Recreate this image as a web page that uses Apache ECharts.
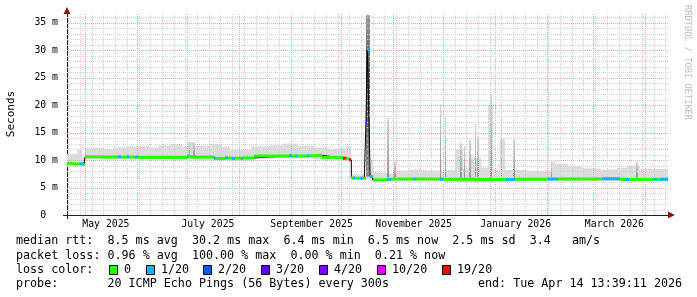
<!DOCTYPE html>
<html><head><meta charset="utf-8">
<script src="https://cdn.jsdelivr.net/npm/echarts@6/dist/echarts.min.js"></script>
<style>html,body{margin:0;padding:0;background:#fff}#c{width:697px;height:297px}</style>
</head><body><div id="c"></div>
<script>
// ---------- data ----------
const startTime = '2025-04-20 06:00';
const endTime = '2026-04-14 13:39:11';
const yTicks = [0, 5, 10, 15, 20, 25, 30, 35];
const xLabelDates = ['2025-05-13 12:00', '2025-07-13 12:00', '2025-09-13 12:00', '2025-11-13 12:00', '2026-01-13 12:00', '2026-03-13 12:00'];
const xLabels = ['May 2025', 'July 2025', 'September 2025', 'November 2025', 'January 2026', 'March 2026'];

// median rtt (ms), held from each time until the next one; loss = lost pings out of 20
const medianTimes = [
  '2025-04-20 06:00', '2025-04-24', '2025-04-28', '2025-04-30 12:00',
  '2025-05-01', '2025-05-10', '2025-05-21', '2025-05-22 12:00', '2025-05-26', '2025-05-27 12:00', '2025-05-31', '2025-06-01 12:00', '2025-06-15',
  '2025-07-01', '2025-07-02 12:00', '2025-07-17', '2025-07-18 12:00', '2025-07-24', '2025-07-25 12:00', '2025-07-28', '2025-07-29 12:00',
  '2025-08-02', '2025-08-03 12:00', '2025-08-10', '2025-08-31', '2025-09-01 12:00', '2025-09-04', '2025-09-05', '2025-09-11', '2025-09-12',
  '2025-09-17', '2025-09-20', '2025-09-29',
  '2025-10-02 12:00', '2025-10-04 06:00', '2025-10-06', '2025-10-07 06:00', '2025-10-08', '2025-10-09 12:00', '2025-10-12 12:00', '2025-10-15',
  '2025-10-16', '2025-10-16 18:00', '2025-10-17 18:00', '2025-10-18 12:00', '2025-10-20',
  '2025-10-28 12:00', '2025-10-31', '2025-11-13', '2025-11-15', '2025-11-29', '2025-12-01', '2025-12-20',
  '2026-01-08', '2026-01-13', '2026-02-02', '2026-02-08', '2026-03-06', '2026-03-17', '2026-03-20', '2026-03-22',
  '2026-04-06', '2026-04-08', '2026-04-10'
];
const medianValues = [
  9.4, 9.3, 9.3, 9.2,
  10.6, 10.55, 10.6, 10.55, 10.6, 10.55, 10.55, 10.5, 10.5,
  10.7, 10.55, 10.35, 10.3, 10.4, 10.35, 10.3, 10.35,
  10.3, 10.4, 10.75, 10.8, 10.75, 10.75, 10.75, 10.8, 10.8,
  10.85, 10.5, 10.45,
  10.35, 10.3, 10.05, 6.75, 6.75, 6.7, 6.7, 6.7,
  17.0, 30.2, 18.2, 7.0, 6.4,
  6.45, 6.55, 6.55, 6.55, 6.5, 6.5, 6.45,
  6.45, 6.5, 6.55, 6.55, 6.6, 6.5, 6.45, 6.45,
  6.5, 6.5, 6.5
];
const medianLoss = [
  0, 0, 1, 0,
  0, 0, 1, 0, 1, 0, 1, 0, 0,
  0, 0, 1, 0, 1, 0, 1, 0,
  1, 0, 0, 1, 0, 1, 0, 1, 0,
  0, 0, 0,
  19, 0, 19, 0, 1, 0, 1, 0,
  3, 1, 1, 1, 0,
  1, 0, 1, 0, 1, 0, 0,
  1, 0, 1, 0, 1, 0, 1, 0,
  1, 0, 1
];

// smoke (spread of the 20 pings), held from each time until the next one
const smokeTimes = [
  '2025-04-20 06:00', '2025-04-26', '2025-04-29',
  '2025-05-01', '2025-05-12', '2025-05-18', '2025-05-26', '2025-06-08', '2025-06-14', '2025-06-22', '2025-06-28',
  '2025-07-01', '2025-07-06', '2025-07-15', '2025-07-22', '2025-07-27', '2025-08-08', '2025-08-20', '2025-08-28',
  '2025-09-05', '2025-09-15', '2025-09-24', '2025-10-01', '2025-10-04',
  '2025-10-07 06:00', '2025-10-19', '2025-10-20', '2025-10-26', '2025-11-02', '2025-11-10', '2025-11-20',
  '2025-12-01', '2025-12-08', '2025-12-13', '2025-12-17', '2025-12-24', '2025-12-28', '2025-12-31',
  '2026-01-04', '2026-01-07', '2026-01-20', '2026-02-04', '2026-02-06', '2026-02-14', '2026-02-22',
  '2026-03-05', '2026-03-15', '2026-03-21', '2026-03-29'
];
const smokeLow = [
  9.0, 9.0, 9.0,
  10.1, 10.1, 10.1, 10.1, 10.1, 10.1, 10.0, 10.0,
  10.1, 10.0, 10.0, 10.0, 9.9, 10.2, 10.3, 10.3,
  10.3, 10.1, 10.1, 9.9, 9.8,
  6.5, 6.2, 6.2, 6.2, 6.2, 6.2, 6.2,
  6.1, 6.0, 6.0, 6.0, 6.0, 6.0, 6.1,
  6.1, 6.1, 6.2, 6.2, 6.2, 6.2, 6.2,
  6.2, 6.2, 6.2, 6.2
];
const smokeHigh = [
  11.1, 11.9, 10.4,
  12.2, 12.0, 12.3, 12.5, 12.3, 12.7, 12.9, 12.4,
  13.3, 12.6, 12.9, 12.4, 11.9, 12.5, 12.7, 13.0,
  12.6, 12.3, 12.0, 12.1, 12.5,
  7.4, 10.0, 7.8, 7.6, 8.1, 8.3, 8.1,
  8.2, 11.9, 8.4, 10.5, 8.6, 20.0, 8.3,
  13.9, 8.2, 8.0, 9.7, 9.3, 8.9, 8.5,
  8.3, 8.6, 9.0, 8.4
];

// short bursts of high ping times
const spikeStart = ['2025-07-02', '2025-07-04 12:00', '2025-10-15 20:00', '2025-10-28 12:00', '2025-11-02', '2025-11-29', '2025-12-02',
  '2025-12-11 06:00', '2025-12-13 12:00', '2025-12-16 12:00', '2025-12-20', '2025-12-21 12:00', '2025-12-29', '2026-01-04 12:00',
  '2026-01-12', '2026-02-03 12:00', '2026-03-26 12:00'];
const spikeEnd = ['2025-07-03', '2025-07-05 12:00', '2025-10-18 16:00', '2025-10-29 12:00', '2025-11-03', '2025-11-30', '2025-12-03',
  '2025-12-12 06:00', '2025-12-14 12:00', '2025-12-17 12:00', '2025-12-21', '2025-12-22 12:00', '2025-12-30 12:00', '2026-01-05 12:00',
  '2026-01-13', '2026-02-04 12:00', '2026-03-27 12:00'];
const spikeLow = [10.6, 10.6, 7.0, 6.6, 6.6, 6.6, 6.6, 6.6, 6.6, 6.6, 6.6, 6.6, 6.6, 6.6, 6.6, 6.6, 6.6];
const spikeHigh = [13.4, 13.3, 36.4, 17.6, 9.7, 20.2, 17.9, 13.1, 12.6, 13.7, 16.6, 14.3, 21.9, 17.9, 13.9, 9.7, 9.7];

const lossSteps = [0, 1, 2, 3, 4, 10, 19];
const lossLabels = ['0', '1/20', '2/20', '3/20', '4/20', '10/20', '19/20'];

// ---------- styles ----------
const LOSS_COLORS = ['#26ff00', '#00b8ff', '#0059ff', '#5e00ff', '#7e00ff', '#dd00ff', '#ff0000'];
const MONO = '"DejaVu Sans Mono", monospace';
const SMOKE = '#dcdcdc';
const MINOR = '#d2d2d2';
const MAJOR = '#f4a4a4';

function T(s) {
  const iso = s.length === 10 ? s + 'T00:00:00' : s.replace(' ', 'T');
  return new Date(iso).getTime();
}
function lossIndex(l) {
  let k = 0;
  for (let i = 0; i < lossSteps.length; i++) if (l >= lossSteps[i]) k = i;
  return k;
}
const tStart = T(startTime), tEnd = T(endTime);

const smokeData = smokeTimes.map((s, i) => [T(s), i + 1 < smokeTimes.length ? T(smokeTimes[i + 1]) : tEnd, smokeLow[i], smokeHigh[i]]);
const spikeData = spikeStart.map((s, i) => [T(s), T(spikeEnd[i]), spikeLow[i], spikeHigh[i]]);
const medSeg = medianTimes.map((s, i) => [T(s), i + 1 < medianTimes.length ? T(medianTimes[i + 1]) : tEnd, medianValues[i], medianLoss[i]]);
const medLine = medianTimes.map((s, i) => [T(s), medianValues[i]]);
medLine.push([tEnd, medianValues[medianValues.length - 1]]);
const xLabelData = xLabelDates.map((s, i) => [T(s), 0, i]);

// grid positions (axis decorations)
const vGrid = [];
{
  let d = new Date(2025, 3, 21);
  while (d.getTime() <= tEnd) { vGrid.push([d.getTime(), 0, 0]); d = new Date(d.getFullYear(), d.getMonth(), d.getDate() + 7); }
  let m = new Date(2025, 4, 1);
  while (m.getTime() <= tEnd) { vGrid.push([m.getTime(), 0, 1]); m = new Date(m.getFullYear(), m.getMonth() + 1, 1); }
}
const hGrid = [];
for (let v = 1; v <= 36; v++) hGrid.push([tStart, v, v % 5 === 0 ? 1 : 0]);

function rectItem(params, api, fill) {
  const cs = params.coordSys;
  const p0 = api.coord([api.value(0), api.value(3)]);
  const p1 = api.coord([api.value(1), api.value(2)]);
  const x0 = Math.round(p0[0]), x1 = Math.round(p1[0]);
  const shape = echarts.graphic.clipRectByRect(
    { x: x0, y: p0[1], width: Math.max(1, x1 - x0), height: p1[1] - p0[1] },
    { x: cs.x, y: cs.y, width: cs.width, height: cs.height });
  if (!shape) return null;
  return { type: 'rect', shape: shape, style: { fill: fill } };
}

const chart = echarts.init(document.getElementById('c'), null, { renderer: 'canvas' });
chart.setOption({
  animation: false,
  backgroundColor: '#ffffff',
  grid: { left: 67, right: 29, top: 14, bottom: 82, containLabel: false },
  xAxis: {
    type: 'value', min: tStart, max: tEnd,
    axisLine: { show: true, lineStyle: { color: '#222', width: 1 } },
    axisTick: { show: false }, splitLine: { show: false },
    axisLabel: { show: false }
  },
  yAxis: {
    type: 'value', min: 0, max: 36.6, interval: 5,
    axisLine: { show: true, lineStyle: { color: '#222', width: 1 } },
    axisTick: { show: false }, splitLine: { show: false },
    axisLabel: {
      formatter: v => (yTicks.indexOf(v) < 0 ? '' : (v === 0 ? '0  ' : v + ' m')),
      showMaxLabel: false,
      color: '#000', fontFamily: MONO, fontSize: 9.8, margin: 9
    }
  },
  series: [
    {
      type: 'custom', name: 'smoke', z: 1, silent: true, clip: true,
      data: smokeData, encode: { x: [0, 1], y: [2, 3] },
      renderItem: (p, api) => rectItem(p, api, SMOKE)
    },
    {
      type: 'custom', name: 'bursts', z: 2, silent: true, clip: true,
      data: spikeData, encode: { x: [0, 1], y: [2, 3] },
      renderItem: (p, api) => rectItem(p, api, api.value(3) > 30 ?
        { type: 'linear', x: 0, y: 0, x2: 0, y2: 1, colorStops: [{ offset: 0, color: '#9a9a9a' }, { offset: 0.35, color: '#555' }, { offset: 1, color: '#8a8a8a' }] } :
        { type: 'linear', x: 0, y: 0, x2: 0, y2: 1, colorStops: [{ offset: 0, color: '#d4d4d4' }, { offset: 1, color: '#909090' }] })
    },
    {
      type: 'custom', name: 'vgrid', z: 3, silent: true,
      data: vGrid, encode: { x: 0, y: 1 },
      renderItem: (params, api) => {
        const cs = params.coordSys;
        const x = Math.round(api.coord([api.value(0), 0])[0]) + 0.5;
        return { type: 'line', shape: { x1: x, y1: cs.y, x2: x, y2: cs.y + cs.height },
          style: { stroke: api.value(2) ? MAJOR : MINOR, lineWidth: 1, lineDash: [1, 1] } };
      }
    },
    {
      type: 'custom', name: 'hgrid', z: 3, silent: true,
      data: hGrid, encode: { x: 0, y: 1 },
      renderItem: (params, api) => {
        const cs = params.coordSys;
        const y = Math.round(api.coord([tStart, api.value(1)])[1]) + 0.5;
        return { type: 'line', shape: { x1: cs.x, y1: y, x2: cs.x + cs.width, y2: y },
          style: { stroke: api.value(2) ? MAJOR : MINOR, lineWidth: 1, lineDash: [1, 1] } };
      }
    },
    {
      type: 'line', name: 'median', z: 4, silent: true, step: 'end', symbol: 'none',
      data: medLine, lineStyle: { color: '#000', width: 1 }
    },
    {
      type: 'custom', name: 'median loss', z: 5, silent: true, clip: true,
      data: medSeg, encode: { x: [0, 1], y: 2 },
      renderItem: (params, api) => {
        const p0 = api.coord([api.value(0), api.value(2)]);
        const p1 = api.coord([api.value(1), api.value(2)]);
        return { type: 'line', shape: { x1: Math.round(p0[0]), y1: p0[1], x2: Math.round(p1[0]), y2: p1[1] },
          style: { stroke: LOSS_COLORS[lossIndex(api.value(3))], lineWidth: 3, lineCap: 'butt' } };
      }
    },
    {
      type: 'custom', name: 'x labels', z: 6, silent: true, clip: false,
      data: xLabelData, encode: { x: 0, y: 1 },
      renderItem: (params, api) => {
        const cs = params.coordSys;
        const p = api.coord([api.value(0), 0]);
        return { type: 'text', x: p[0], y: cs.y + cs.height + 4,
          style: { text: xLabels[api.value(2)], font: '9.8px ' + MONO, fill: '#000', align: 'center', verticalAlign: 'top' } };
      }
    }
  ],
  graphic: [
    { type: 'text', x: 11, y: 114, rotation: Math.PI / 2,
      style: { text: 'Seconds', font: '11px ' + MONO, fill: '#000', align: 'center', verticalAlign: 'middle' } },
    { type: 'text', x: 687, y: 5, rotation: -Math.PI / 2,
      style: { text: 'RRDTOOL / TOBI OETIKER', font: '8.7px ' + MONO, fill: '#bdbdbd', align: 'left', verticalAlign: 'middle' } },
    { type: 'line', shape: { x1: 63, y1: 215.5, x2: 67, y2: 215.5 }, style: { stroke: '#222', lineWidth: 1 } },
    { type: 'line', shape: { x1: 67.5, y1: 215, x2: 67.5, y2: 219 }, style: { stroke: '#222', lineWidth: 1 } },
    { type: 'polygon', shape: { points: [[63.5, 14], [70.5, 14], [67, 7]] }, style: { fill: '#8b1414' } },
    { type: 'polygon', shape: { points: [[668, 211.5], [668, 218.5], [675, 215]] }, style: { fill: '#8b1414' } },
    { type: 'text', x: 16, y: 241, style: { text: 'median rtt:  8.5 ms avg  30.2 ms max  6.4 ms min  6.5 ms now  2.5 ms sd  3.4   am/s', font: '11.7px ' + MONO, fill: '#000', verticalAlign: 'middle' } },
    { type: 'text', x: 16, y: 256, style: { text: 'packet loss: 0.96 % avg  100.00 % max  0.00 % min  0.21 % now', font: '11.7px ' + MONO, fill: '#000', verticalAlign: 'middle' } },
    { type: 'text', x: 16, y: 270, style: { text: 'loss color:', font: '11.7px ' + MONO, fill: '#000', verticalAlign: 'middle' } },
    { type: 'text', x: 16, y: 284, style: { text: 'probe:       20 ICMP Echo Pings (56 Bytes) every 300s', font: '11.7px ' + MONO, fill: '#000', verticalAlign: 'middle' } },
    { type: 'text', x: 478, y: 284, style: { text: 'end: Tue Apr 14 13:39:11 2026', font: '11.7px ' + MONO, fill: '#000', verticalAlign: 'middle' } }
  ].concat(lossLabels.flatMap((lab, i) => {
    const sx = [109, 146, 203, 261, 319, 377, 442][i];
    return [
      { type: 'rect', shape: { x: sx + 0.5, y: 265.5, width: 8, height: 9 }, style: { fill: LOSS_COLORS[i], stroke: '#000', lineWidth: 1 } },
      { type: 'text', x: sx + 15, y: 270, style: { text: lab, font: '11.7px ' + MONO, fill: '#000', verticalAlign: 'middle' } }
    ];
  }))
});
</script></body></html>
